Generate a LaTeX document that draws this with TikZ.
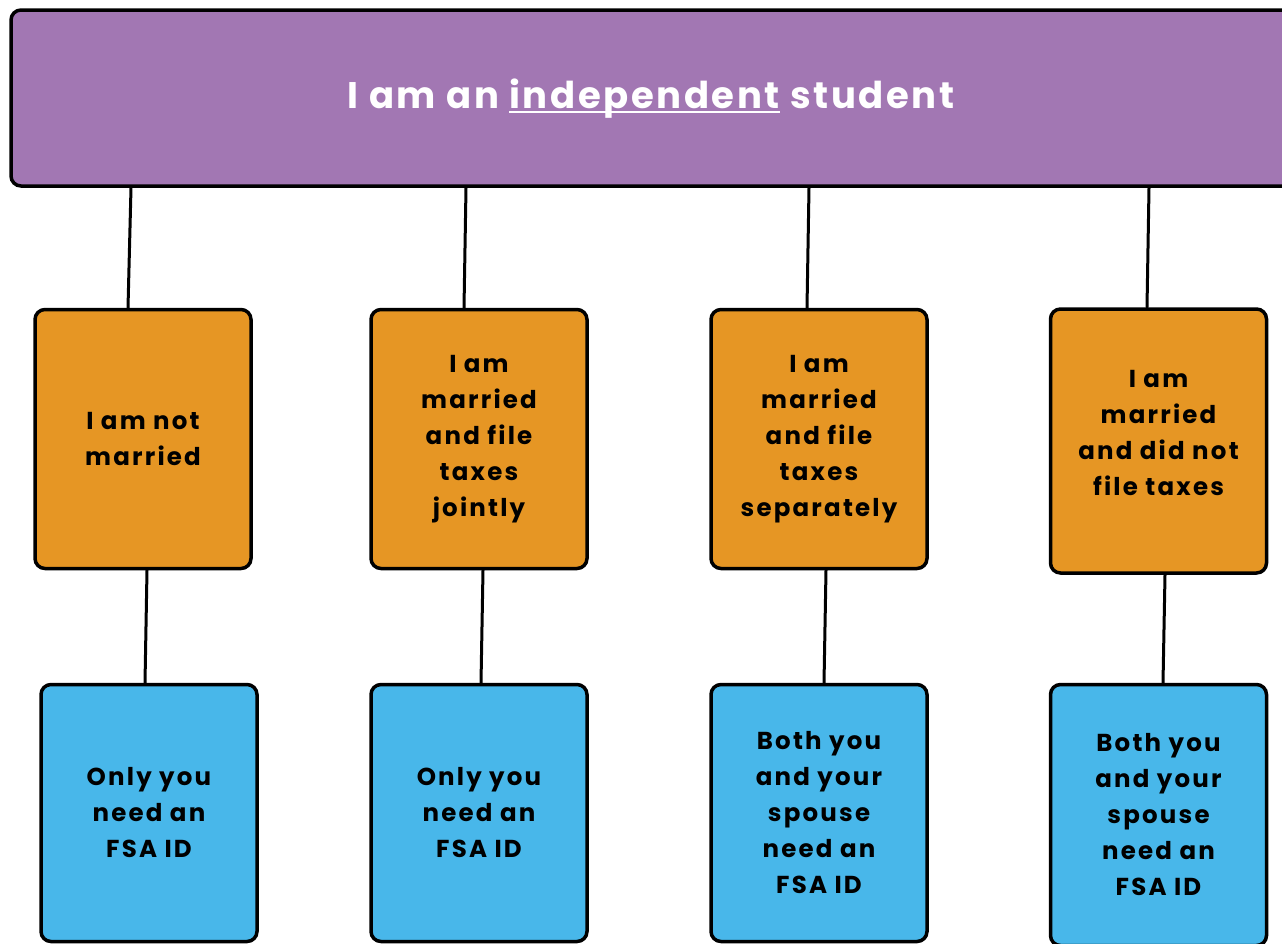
\documentclass[tikz,border=0pt]{standalone}
\usepackage{fontspec}
\setmainfont[LetterSpace=7]{Poppins}
\newfontfamily\boxfont[LetterSpace=9]{Poppins}
\usetikzlibrary{positioning}

\definecolor{lilac}{RGB}{162,119,179}
\definecolor{amber}{RGB}{230,150,36}
\definecolor{sky}{RGB}{72,183,234}

\newcommand{\ulword}[1]{\setbox0\hbox{#1}\rlap{\rule[-4pt]{\wd0}{2pt}}\box0\relax}

\tikzset{
  box/.style={draw=black,line width=3.5pt,rounded corners=10pt,align=center,
    font=\boxfont\bfseries\fontsize{24.5}{36}\selectfont,text=black},
  statusbox/.style={box,fill=amber,minimum width=216pt,minimum height=259pt},
  needbox/.style={box,fill=sky,minimum width=216pt,minimum height=257pt},
  link/.style={line width=3pt,line cap=round}
}

\begin{document}
\begin{tikzpicture}[x=1pt,y=-1pt]
\useasboundingbox (0,0) rectangle (1282,943);
%\draw[help lines] (0,0) grid[step=50] (1282,943);

\node[draw=black,line width=3.5pt,rounded corners=10pt,fill=lilac,minimum width=1290pt,minimum height=176pt] (top) at (656,98) {};
\node[text=white,font=\bfseries\fontsize{37}{44}\selectfont] (title) at (651,99) {I am an \ulword{independent} student};

\node[statusbox] (s1) at (143,439) {I am not\\married};
\node[statusbox] (s2) at (479,439) {I am\\married\\and file\\taxes\\jointly};
\node[statusbox] (s3) at (819,439) {I am\\married\\and file\\taxes\\separately};
\node[statusbox,minimum height=264pt,text depth=16pt] (s4) at (1158.5,441) {I am\\married\\and did not\\file taxes};

\node[needbox] (n1) at (149,813) {Only you\\need an\\FSA ID};
\node[needbox] (n2) at (479,813) {Only you\\need an\\FSA ID};
\node[needbox] (n3) at (819,813) {Both you\\and your\\spouse\\need an\\FSA ID};
\node[needbox,minimum height=261pt] (n4) at (1158.5,815) {Both you\\and your\\spouse\\need an\\FSA ID};

\draw[link] ([xshift=-12pt]s1.north |- top.south) -- ([xshift=-15pt]s1.north);
\draw[link] ([xshift=-13pt]s2.north |- top.south) -- ([xshift=-15pt]s2.north);
\draw[link] ([xshift=-10pt]s3.north |- top.south) -- ([xshift=-12pt]s3.north);
\draw[link] ([xshift=-9.5pt]s4.north |- top.south) -- ([xshift=-11.5pt]s4.north);

\draw[link] ([xshift=4pt]s1.south) -- ([xshift=-4pt]n1.north);
\draw[link] ([xshift=4pt]s2.south) -- ([xshift=2pt]n2.north);
\draw[link] ([xshift=7pt]s3.south) -- ([xshift=5pt]n3.north);
\draw[link] ([xshift=6.5pt]s4.south) -- ([xshift=4.5pt]n4.north);
\end{tikzpicture}
\end{document}
